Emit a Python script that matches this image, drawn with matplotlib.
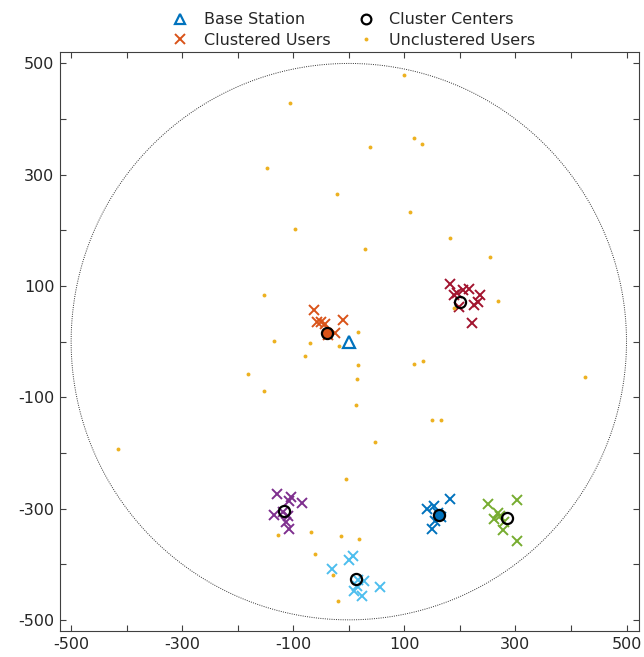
import numpy as np
import matplotlib
matplotlib.use("Agg")
import matplotlib.pyplot as plt
from matplotlib.lines import Line2D

# ------------------------------------------------------------
# Network layout: base station, user clusters, stray users
# ------------------------------------------------------------

CELL_RADIUS = 500

base_station = (0, 0)

# users assigned to each cluster (x, y in metres)
cluster_users = [
    [(-62, 57), (-58, 35), (-50, 35), (-43, 31), (-10, 38), (-24, 16), (-38, 12)],
    [(183, 104), (189, 84), (205, 93), (217, 94), (237, 83), (232, 72),
     (226, 66), (199, 63), (222, 34), (195, 88)],
    [(-130, -273), (-104, -280), (-107, -287), (-85, -290), (-134, -311),
     (-118, -307), (-110, -314), (-113, -324), (-108, -336)],
    [(7, -386), (0, -392), (-31, -408), (27, -431), (14, -440), (9, -448),
     (24, -457), (57, -441), (16, -428)],
    [(182, -283), (141, -301), (154, -295), (161, -308), (149, -336),
     (156, -322), (166, -315)],
    [(250, -292), (303, -284), (268, -308), (273, -314), (262, -318),
     (279, -325), (277, -338), (302, -359)],
]

cluster_centers = [(-40, 16), (200, 72), (-116, -305), (13, -427), (163, -312), (285, -317)]

unclustered_x = [-106, -148, -22, -97, 99, 117, 132, 38, 111, 30, 183, 254, 268,
                 190, 17, -134, -70, -18, -78, 17, -181, 14, -153, 13, -416, -5,
                 -127, -68, -14, 18, -60, -28, -19, -153, 118, 134, 150, 166, 48, 426]
unclustered_y = [428, 312, 266, 202, 479, 366, 356, 349, 233, 166, 186, 152, 73,
                 60, 18, 1, -2, -8, -25, -42, -59, -67, -89, -113, -193, -246,
                 -347, -343, -349, -354, -382, -420, -467, 84, -40, -35, -141, -141, -180, -64]

# ------------------------------------------------------------
# Styling (MATLAB default colour order)
# ------------------------------------------------------------

cluster_colors = ["#D95319", "#A2142F", "#7E2F8E", "#4DBEEE", "#0072BD", "#77AC30"]
center_filled = [True, False, False, False, True, False]
BS_COLOR = "#0072BD"
DOT_COLOR = "#EDB120"
TEXT_COLOR = "#262626"

plt.rcParams["font.family"] = "DejaVu Sans"
plt.rcParams["font.size"] = 11.5

fig = plt.figure(figsize=(6.44, 6.57), dpi=100)
ax = fig.add_axes([0.0932, 0.0396, 0.8986, 0.8808])

# coverage boundary
theta = np.linspace(0, 2 * np.pi, 721)
ax.plot(CELL_RADIUS * np.cos(theta), CELL_RADIUS * np.sin(theta),
        linestyle=(0, (1, 1.3)), color="#333333", lw=0.7, zorder=1)

for users, color in zip(cluster_users, cluster_colors):
    ux, uy = zip(*users)
    ax.plot(ux, uy, "x", color=color, ms=7.5, mew=1.4, zorder=2)

ax.plot(unclustered_x, unclustered_y, "o", color=DOT_COLOR, ms=2.8, mew=0, zorder=3)

for (cx, cy), color, filled in zip(cluster_centers, cluster_colors, center_filled):
    ax.plot(cx, cy, "o", mfc=color if filled else "none", mec="black",
            ms=8, mew=1.6, zorder=4)

ax.plot(base_station[0], base_station[1], "^", mfc="none", mec=BS_COLOR,
        ms=8.5, mew=1.6, zorder=4)

ax.set_xlim(-520, 522)
ax.set_ylim(-520, 520)

ticks = np.arange(-500, 501, 100)
ax.set_xticks(ticks)
ax.set_yticks(ticks)
ax.set_xticklabels([str(t) if t % 200 else "" for t in ticks])
ax.set_yticklabels([str(t) if t % 200 else "" for t in ticks])
ax.tick_params(direction="in", length=4, width=0.8, colors="#404040",
               labelcolor=TEXT_COLOR, top=True, right=True, pad=4)
for spine in ax.spines.values():
    spine.set_color("#404040")
    spine.set_linewidth(0.8)

handles = [
    Line2D([], [], ls="none", marker="^", mfc="none", mec=BS_COLOR, ms=7.5, mew=1.6),
    Line2D([], [], ls="none", marker="x", color=cluster_colors[0], ms=6.5, mew=1.4),
    Line2D([], [], ls="none", marker="o", mfc="none", mec="black", ms=7, mew=1.6),
    Line2D([], [], ls="none", marker="o", color=DOT_COLOR, ms=2.8, mew=0),
]
labels = ["Base Station", "Clustered Users", "Cluster Centers", "Unclustered Users"]
fig.legend(handles, labels, ncol=2, loc="upper center", bbox_to_anchor=(0.548, 1.003),
           frameon=False, handlelength=1.2, handletextpad=0.9, columnspacing=1.6,
           labelspacing=0.35, labelcolor=TEXT_COLOR)

fig.savefig("out.png", dpi=100)
